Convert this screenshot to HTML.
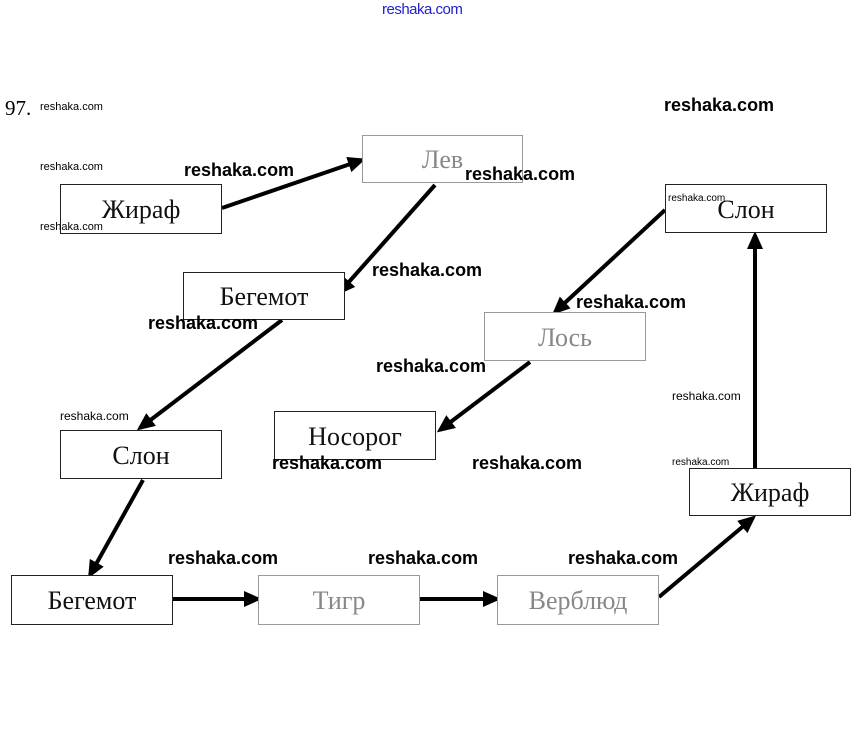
<!DOCTYPE html>
<html><head><meta charset="utf-8"><style>
body{margin:0;width:860px;height:729px;background:#fff;position:relative;overflow:hidden;font-family:"Liberation Sans",sans-serif}
.b{position:absolute;border:1px solid #222;background:#fff;font-family:"Liberation Serif",serif;font-size:26px;text-align:center;box-sizing:border-box;color:#111}
.f{border-color:#999;color:#888}
.w{position:absolute;font-weight:bold;font-size:18px;color:#000}
.s{position:absolute;font-size:11px;color:#000}
</style></head><body>
<div style="position:absolute;left:382px;top:1px;font-size:15px;color:#2020d0;letter-spacing:-0.5px">reshaka.com</div>
<div style="position:absolute;left:5px;top:96px;font-family:'Liberation Serif',serif;font-size:21px">97.</div>
<svg width="860" height="729" style="position:absolute;left:0;top:0">
<defs><marker id="a" markerWidth="18" markerHeight="16" refX="14" refY="8" orient="auto" markerUnits="userSpaceOnUse"><path d="M0,0 L18,8 L0,16 z" fill="#000"/></marker></defs>
<g stroke="#000" stroke-width="4" fill="none" marker-end="url(#a)">
<line x1="222" y1="208" x2="362" y2="160"/>
<line x1="435" y1="185" x2="340" y2="292"/>
<line x1="282" y1="320" x2="140" y2="428"/>
<line x1="143" y1="480" x2="90" y2="575"/>
<line x1="173" y1="599" x2="258" y2="599"/>
<line x1="420" y1="599" x2="497" y2="599"/>
<line x1="659" y1="597" x2="753" y2="518"/>
<line x1="755" y1="468" x2="755" y2="235"/>
<line x1="665" y1="210" x2="555" y2="312"/>
<line x1="530" y1="362" x2="440" y2="430"/>
</g></svg>
<div class="b" style="left:60px;top:184px;width:162px;height:50px;line-height:50px">Жираф</div>
<div class="b f" style="left:362px;top:135px;width:161px;height:48px;line-height:48px">Лев</div>
<div class="b" style="left:183px;top:272px;width:162px;height:48px;line-height:48px">Бегемот</div>
<div class="b" style="left:60px;top:430px;width:162px;height:49px;line-height:49px">Слон</div>
<div class="b" style="left:11px;top:575px;width:162px;height:50px;line-height:50px">Бегемот</div>
<div class="b f" style="left:258px;top:575px;width:162px;height:50px;line-height:50px">Тигр</div>
<div class="b f" style="left:497px;top:575px;width:162px;height:50px;line-height:50px">Верблюд</div>
<div class="b" style="left:689px;top:468px;width:162px;height:48px;line-height:48px">Жираф</div>
<div class="b" style="left:665px;top:184px;width:162px;height:49px;line-height:49px">Слон</div>
<div class="b f" style="left:484px;top:312px;width:162px;height:49px;line-height:49px">Лось</div>
<div class="b" style="left:274px;top:411px;width:162px;height:49px;line-height:49px">Носорог</div>
<div class="s" style="left:40px;top:101px">reshaka.com</div>
<div class="s" style="left:40px;top:161px">reshaka.com</div>
<div class="s" style="left:40px;top:221px">reshaka.com</div>
<div class="s" style="left:60px;top:409px;font-size:12px">reshaka.com</div>
<div class="s" style="left:668px;top:193px;font-size:10px">reshaka.com</div>
<div class="s" style="left:672px;top:389px;font-size:12px">reshaka.com</div>
<div class="s" style="left:672px;top:457px;font-size:10px">reshaka.com</div>
<div class="w" style="left:664px;top:95px">reshaka.com</div>
<div class="w" style="left:184px;top:160px">reshaka.com</div>
<div class="w" style="left:465px;top:164px">reshaka.com</div>
<div class="w" style="left:372px;top:260px">reshaka.com</div>
<div class="w" style="left:148px;top:313px">reshaka.com</div>
<div class="w" style="left:576px;top:292px">reshaka.com</div>
<div class="w" style="left:376px;top:356px">reshaka.com</div>
<div class="w" style="left:272px;top:453px">reshaka.com</div>
<div class="w" style="left:472px;top:453px">reshaka.com</div>
<div class="w" style="left:168px;top:548px">reshaka.com</div>
<div class="w" style="left:368px;top:548px">reshaka.com</div>
<div class="w" style="left:568px;top:548px">reshaka.com</div>
</body></html>
